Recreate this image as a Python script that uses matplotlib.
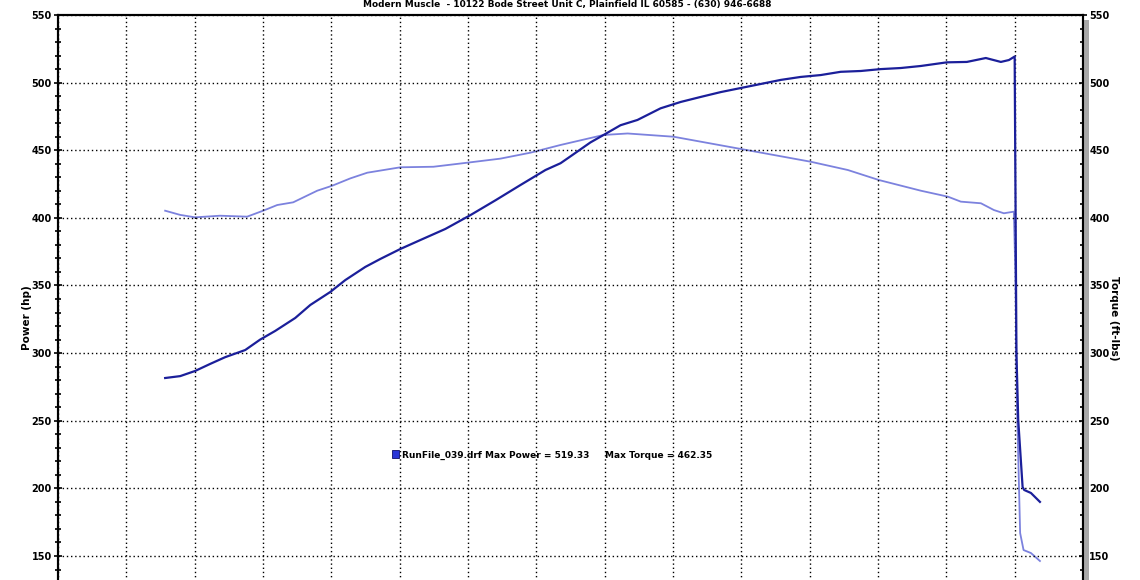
import matplotlib.pyplot as plt
from matplotlib.patches import Rectangle

# dyno run data (rpm, hp / ft-lbs)
power_rpm = [1784, 1894, 2003, 2113, 2223, 2370, 2479, 2589, 2736, 2846, 2992, 3102,
             3248, 3358, 3505, 3651, 3834, 4017, 4201, 4384, 4567, 4677, 4750, 4896,
             4992, 5116, 5240, 5409, 5556, 5702, 5849, 5995, 6142, 6288, 6434, 6581,
             6727, 6874, 7020, 7167, 7313, 7504, 7650, 7789, 7899, 7958, 8000,
             8004, 8013, 8026, 8058, 8070, 8119, 8185]
power_hp = [281.6, 283.0, 286.8, 292.0, 297.0, 302.3, 310.0, 316.4, 326.0, 335.6, 345.2, 354.0,
            363.7, 369.6, 377.0, 383.6, 391.8, 402.0, 413.0, 424.3, 435.4, 440.4, 445.5, 455.8,
            461.3, 468.5, 472.4, 481.0, 485.7, 489.4, 493.0, 496.0, 499.0, 502.0, 504.2, 505.6,
            508.0, 508.6, 510.0, 510.8, 512.3, 515.0, 515.3, 518.2, 515.3, 516.7, 519.3,
            450.0, 300.0, 250.6, 201.0, 198.8, 196.6, 190.0]

torque_rpm = [1784, 1894, 2003, 2186, 2384, 2501, 2604, 2721, 2897, 3007, 3139, 3263,
              3505, 3747, 3995, 4237, 4457, 4677, 4992, 5168, 5504, 6010, 6508, 6779,
              7006, 7313, 7511, 7606, 7753, 7848, 7921, 7994,
              8005, 8016, 8040, 8065, 8119, 8185]
torque_lbft = [405.3, 402.2, 400.4, 401.6, 400.9, 405.3, 409.5, 411.5, 420.1, 423.8, 429.2, 433.4,
               437.4, 437.8, 440.8, 443.8, 448.2, 453.9, 461.3, 462.4, 460.0, 450.7, 441.5, 435.4,
               428.0, 420.1, 415.7, 412.0, 410.8, 405.8, 403.4, 404.6,
               360.0, 265.0, 167.0, 154.4, 152.2, 146.3]

title = "Modern Muscle  - 10122 Bode Street Unit C, Plainfield IL 60585 - (630) 946-6688"
run_name = "RunFile_039.drf"
max_power = "519.33"
max_torque = "462.35"

W, H = 1140, 580
fig = plt.figure(figsize=(W / 100, H / 100), dpi=100)

# 550 sits at y=15px and 150 at y=556px; 130 lands just under the picture edge
bot_px = 556 + 20 * 541 / 400
ax = fig.add_axes([58 / W, 1 - bot_px / H, (1083 - 58) / W, (bot_px - 15) / H])
ax2 = ax.twinx()

c_power = '#1b1f9a'
c_torque = '#7c82de'

ax.plot(power_rpm, power_hp, color=c_power, lw=1.6, zorder=3)
ax2.plot(torque_rpm, torque_lbft, color=c_torque, lw=1.3, zorder=3)

for a in (ax, ax2):
    a.set_xlim(1000, 8500)
    a.set_ylim(130, 550)
    a.set_yticks(range(150, 551, 50))
    a.set_yticks(range(130, 551, 10), minor=True)
    a.tick_params(axis='y', which='major', direction='inout', length=6, width=1.2,
                  labelsize=7, pad=1.5)
    a.tick_params(axis='y', which='minor', direction='inout', length=5, width=1.2)
    for lab in a.get_yticklabels():
        lab.set_fontweight('bold')
    for s in a.spines.values():
        s.set_linewidth(1.5)
        s.set_color('black')
    a.spines['bottom'].set_visible(False)

ax.set_xticks(range(1000, 8501, 500))
ax.tick_params(axis='x', length=0, labelbottom=False)
ax.grid(True, color='black', linestyle=(0, (1, 2)), linewidth=1)
ax.set_zorder(ax2.get_zorder() + 1)
ax.patch.set_visible(False)

# shadow band right of the torque axis
fig.patches.append(Rectangle((1084 / W, 0), 5 / W, 1 - 20 / H, transform=fig.transFigure,
                             facecolor='#a8a8a8', edgecolor='none', zorder=0))

fig.text(567 / W, 1 - 5 / H, title, ha='center', va='center', fontsize=6.5, fontweight='bold')
fig.text(27 / W, 1 - 318 / H, "Power (hp)", rotation=90, ha='center', va='center',
         fontsize=7.5, fontweight='bold')
fig.text(1114 / W, 1 - 318 / H, "Torque (ft-lbs)", rotation=270, ha='center', va='center',
         fontsize=7.5, fontweight='bold')

# run legend
fig.patches.append(Rectangle((392 / W, 1 - 458 / H), 7 / W, 8 / H, transform=fig.transFigure,
                             facecolor='#2a36d8', edgecolor='#10106a', lw=0.6, zorder=5))
fig.text(402 / W, 1 - 455 / H,
         run_name + " Max Power = " + max_power + "     Max Torque = " + max_torque,
         ha='left', va='center', fontsize=6.5, fontweight='bold')

fig.savefig('out.png', dpi=100)
